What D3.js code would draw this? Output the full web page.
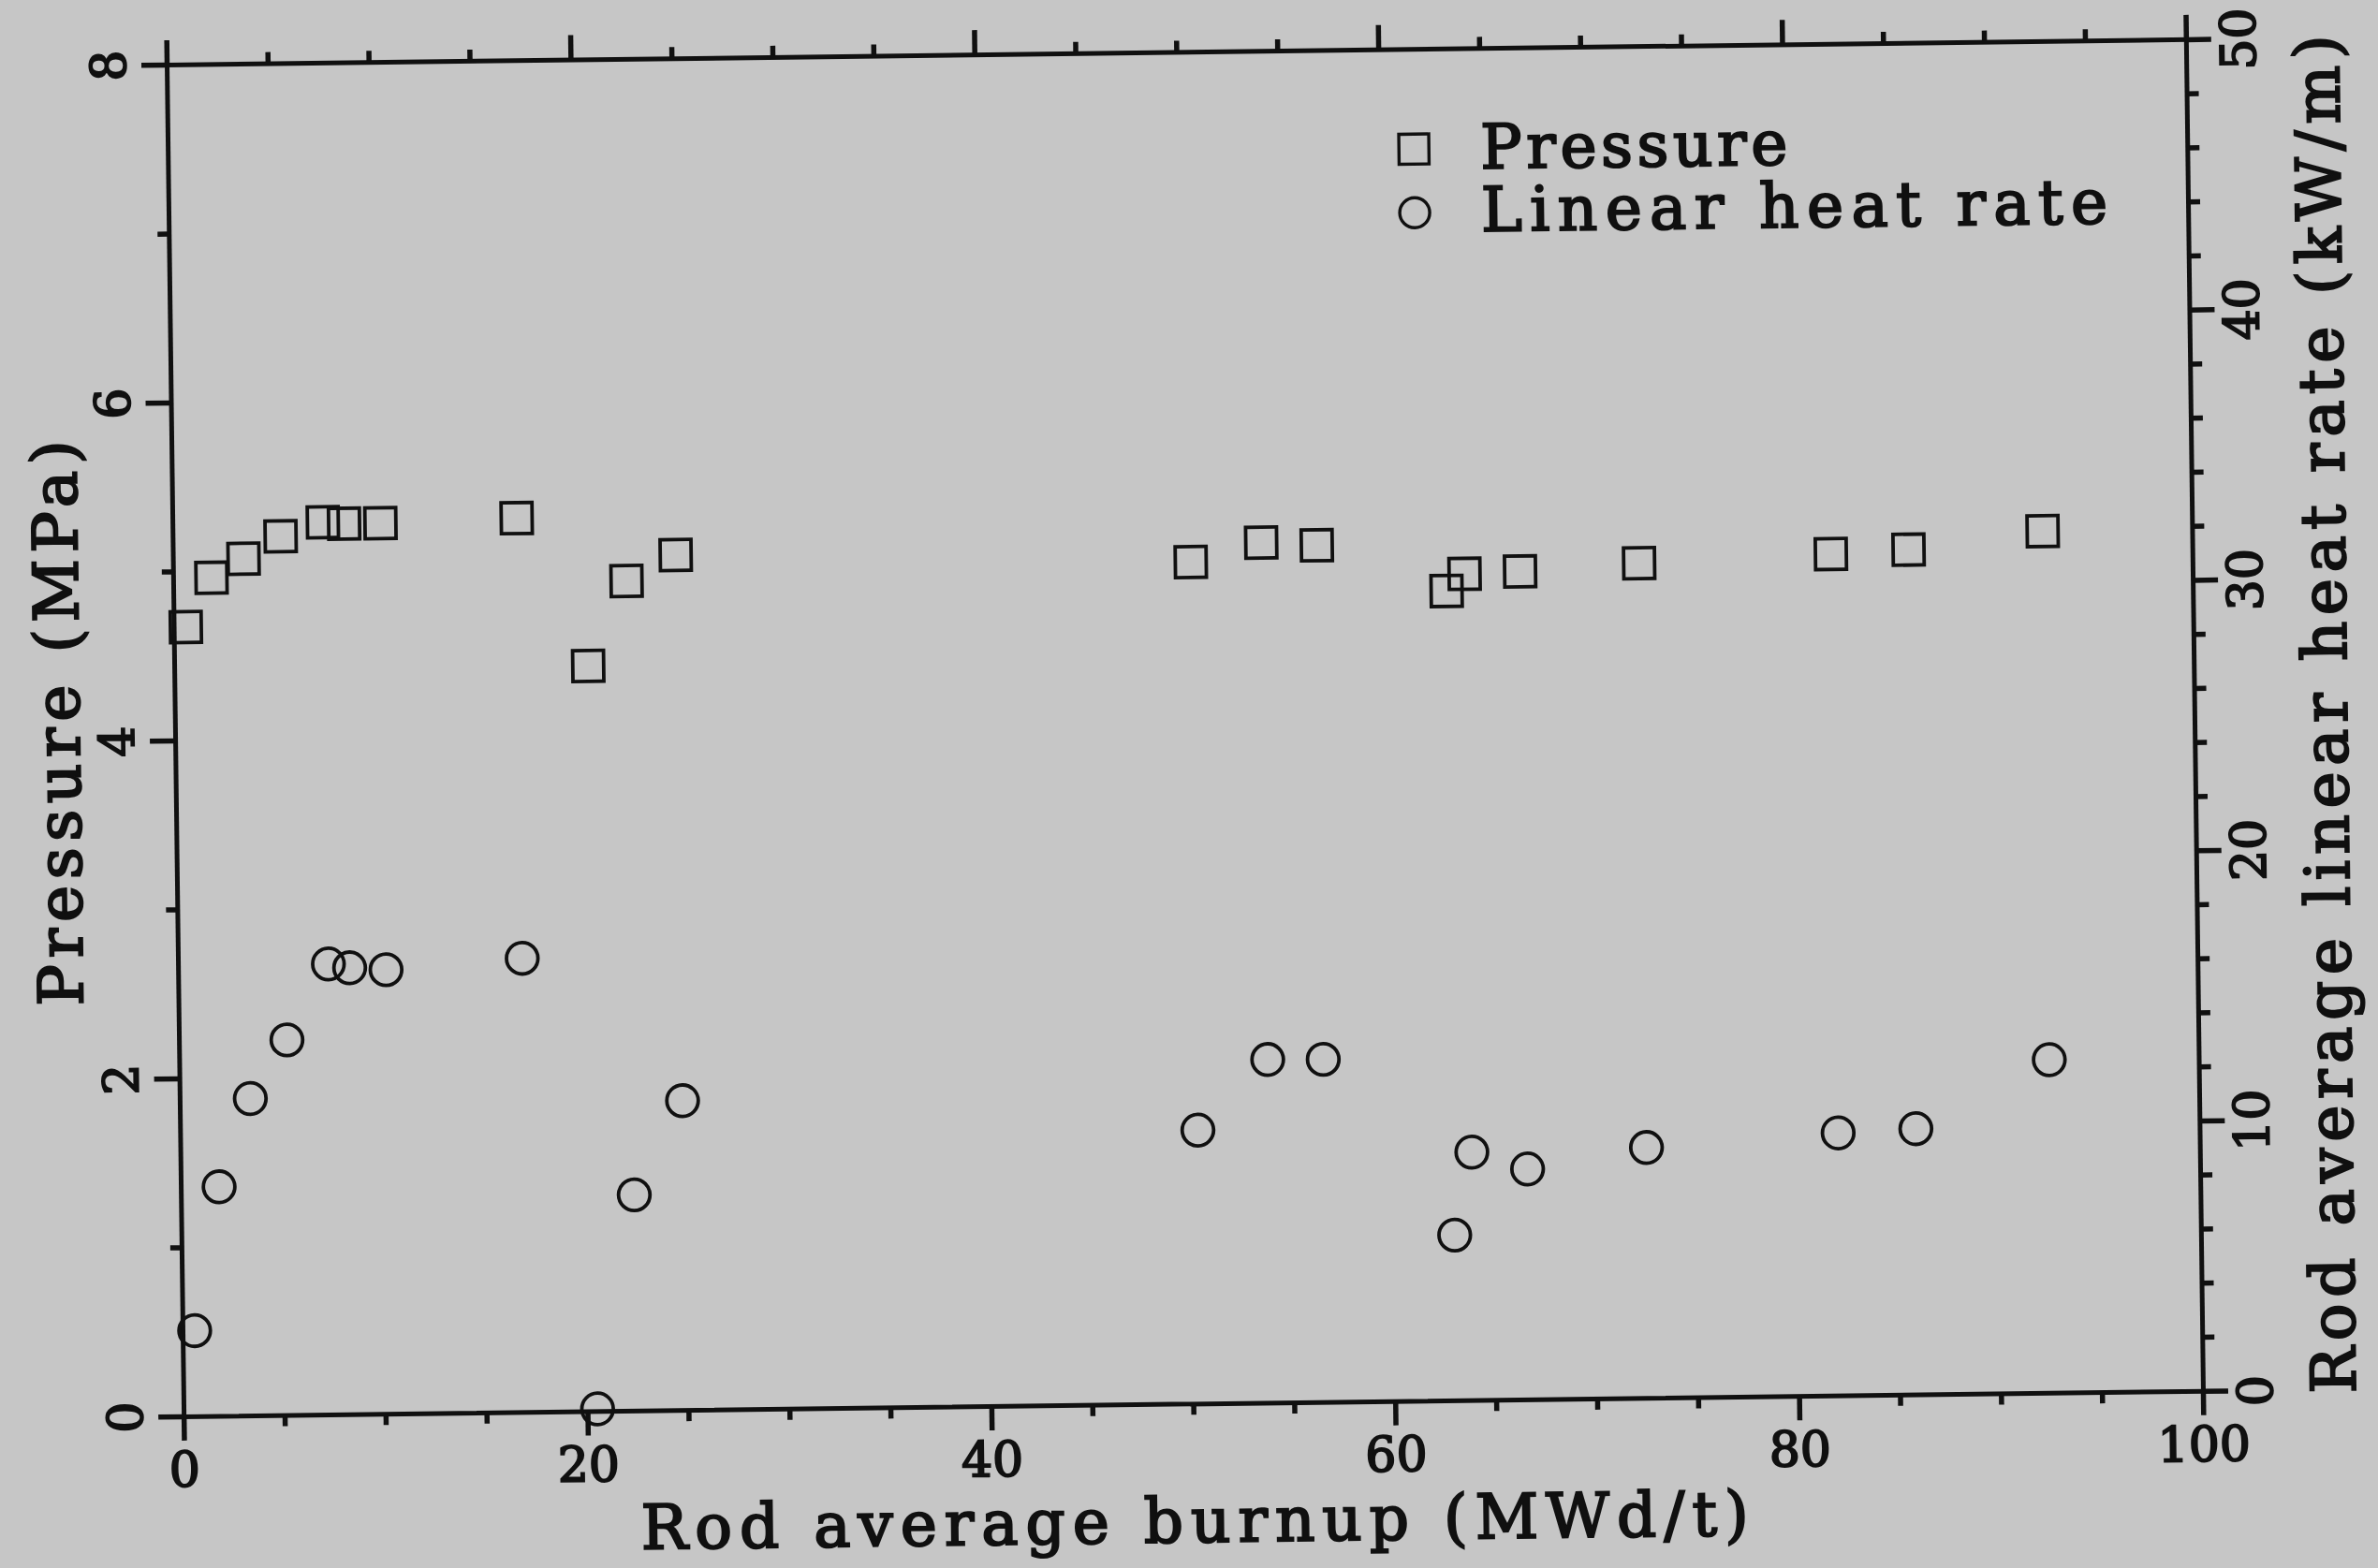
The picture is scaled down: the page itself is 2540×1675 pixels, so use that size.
<!DOCTYPE html>
<html>
<head>
<meta charset="utf-8">
<script src="https://cdn.jsdelivr.net/npm/d3@7"></script>
<style>
  html, body { margin: 0; padding: 0; background: #c6c6c6; }
  svg { display: block; }
</style>
</head>
<body>
<script>
// ---- data ----
const burnup   = [0.6, 1.9, 3.5, 5.35, 7.45, 8.5, 10.3, 17.05, 20.5, 22.45, 24.9,
                  50.4, 53.9, 56.65, 63.05, 63.95, 66.7, 72.6, 82.1, 85.95, 92.6];
const pressure = [4.67, 4.96, 5.07, 5.20, 5.28, 5.27, 5.27, 5.29, 4.41, 4.91, 5.06,
                  4.98, 5.09, 5.07, 4.79, 4.89, 4.90, 4.94, 4.98, 5.00, 5.10];
const heatRate = [3.16, 8.47, 11.72, 13.87, 16.66, 16.51, 16.42, 16.78, 0.08, 7.98, 11.44,
                  10.11, 12.69, 12.67, 6.11, 9.17, 8.52, 9.26, 9.71, 9.83, 12.32];

const xMajorTicks = [0, 20, 40, 60, 80, 100];
const xMinorTicks = [5, 10, 15, 25, 30, 35, 45, 50, 55, 65, 70, 75, 85, 90, 95];
const pMajorTicks = [0, 2, 4, 6, 8];
const pMinorTicks = [1, 3, 5, 7];
const hMajorTicks = [0, 10, 20, 30, 40, 50];
const hMinorTicks = [2, 4, 6, 8, 12, 14, 16, 18, 22, 24, 26, 28, 32, 34, 36, 38, 42, 44, 46, 48];

const xTitle = "Rod average burnup (MWd/t)";
const pTitle = "Pressure (MPa)";
const hTitle = "Rod average linear heat rate (kW/m)";
const legendLabels = ["Pressure", "Linear heat rate"];

// ---- layout ----
const ink = "#101010";
const font = "'DejaVu Serif', 'Liberation Serif', serif";
const W = 2157, H = 1444;

const svg = d3.select("body").append("svg")
  .attr("width", 2540).attr("height", 1675);
svg.append("rect").attr("width", 2540).attr("height", 1675).attr("fill", "#c6c6c6");

const g = svg.append("g").attr("transform", "translate(178,69) rotate(-0.72)");

const x = d3.scaleLinear().domain([0, 100]).range([0, W]);
const yP = d3.scaleLinear().domain([0, 8]).range([H, 0]);
const yH = d3.scaleLinear().domain([0, 50]).range([H, 0]);

function styleAxis(sel, keepDomain) {
  if (keepDomain) sel.select(".domain").attr("stroke", ink).attr("stroke-width", 5).attr("stroke-linecap", "square");
  else sel.select(".domain").remove();
  sel.selectAll(".tick line").attr("stroke", ink).attr("stroke-width", 5.5);
  sel.selectAll("text").attr("fill", ink)
    .style("font-family", font).style("font-size", "52px")
    .attr("stroke", ink).attr("stroke-width", 2);
}

// bottom
g.append("g").attr("transform", `translate(0,${H})`)
  .call(d3.axisBottom(x).tickValues(xMinorTicks).tickSize(12).tickFormat(""))
  .call(s => styleAxis(s, false));
g.append("g").attr("transform", `translate(0,${H})`)
  .call(d3.axisBottom(x).tickValues(xMajorTicks).tickSize(26).tickSizeOuter(0).tickFormat(d3.format("d")))
  .call(s => styleAxis(s, true))
  .call(s => s.selectAll("text").attr("y", 75).attr("dy", 0).attr("text-anchor", "middle"));

// top
g.append("g")
  .call(d3.axisTop(x).tickValues(xMinorTicks).tickSize(12).tickFormat(""))
  .call(s => styleAxis(s, false));
g.append("g")
  .call(d3.axisTop(x).tickValues(xMajorTicks).tickSize(26).tickSizeOuter(0).tickFormat(""))
  .call(s => styleAxis(s, true));

// left
g.append("g")
  .call(d3.axisLeft(yP).tickValues(pMinorTicks).tickSize(12).tickFormat(""))
  .call(s => styleAxis(s, false));
g.append("g")
  .call(d3.axisLeft(yP).tickValues(pMajorTicks).tickSize(27).tickSizeOuter(0).tickFormat(d3.format("d")))
  .call(s => styleAxis(s, true))
  .call(s => s.selectAll("text").attr("x", 0).attr("dy", 0)
    .attr("text-anchor", "middle").attr("transform", "translate(-44,0) rotate(-90)"));

// right
g.append("g").attr("transform", `translate(${W},0)`)
  .call(d3.axisRight(yH).tickValues(hMinorTicks).tickSize(13).tickFormat(""))
  .call(s => styleAxis(s, false));
g.append("g").attr("transform", `translate(${W},0)`)
  .call(d3.axisRight(yH).tickValues(hMajorTicks).tickSize(27).tickSizeOuter(0).tickFormat(d3.format("d")))
  .call(s => styleAxis(s, true))
  .call(s => s.selectAll("text").attr("x", 0).attr("dy", 0)
    .attr("text-anchor", "middle").attr("transform", "translate(74,0) rotate(-90)"));

// titles
function titleText(sel) {
  return sel.attr("fill", ink).style("font-family", font).style("font-size", "66px")
    .attr("stroke", ink).attr("stroke-width", 2.2)
    .attr("text-anchor", "middle").attr("lengthAdjust", "spacing");
}
g.append("text").attr("x", W / 2).attr("y", 1592).text(xTitle)
  .call(titleText).attr("textLength", 1183);
g.append("text").attr("transform", "translate(-102,702) rotate(-90)").text(pTitle)
  .call(titleText).attr("textLength", 604);
g.append("text").attr("transform", "translate(2320,723) rotate(-90)").text(hTitle)
  .call(titleText).attr("textLength", 1451);

// data
const pts = burnup.map((b, i) => ({ b, p: pressure[i], h: heatRate[i] }));
const sq = 33, cr = 16.8;
g.append("g").selectAll("rect").data(pts).join("rect")
  .attr("x", d => x(d.b) - sq / 2).attr("y", d => yP(d.p) - sq / 2)
  .attr("width", sq).attr("height", sq)
  .attr("fill", "none").attr("stroke", ink).attr("stroke-width", 3.8);
g.append("g").selectAll("circle").data(pts).join("circle")
  .attr("cx", d => x(d.b)).attr("cy", d => yH(d.h)).attr("r", cr)
  .attr("fill", "none").attr("stroke", ink).attr("stroke-width", 3.8);

// legend
const lg = g.append("g");
lg.append("rect").attr("x", 1331 - 16).attr("y", 107 - 16).attr("width", 32).attr("height", 32)
  .attr("fill", "none").attr("stroke", ink).attr("stroke-width", 3.4);
lg.append("circle").attr("cx", 1331).attr("cy", 175).attr("r", 16)
  .attr("fill", "none").attr("stroke", ink).attr("stroke-width", 3.4);
lg.append("text").attr("x", 1402).attr("y", 128.6).text(legendLabels[0])
  .call(titleText).attr("text-anchor", "start").attr("textLength", 328);
lg.append("text").attr("x", 1402).attr("y", 195.6).text(legendLabels[1])
  .call(titleText).attr("text-anchor", "start").attr("textLength", 669);
</script>
</body>
</html>
